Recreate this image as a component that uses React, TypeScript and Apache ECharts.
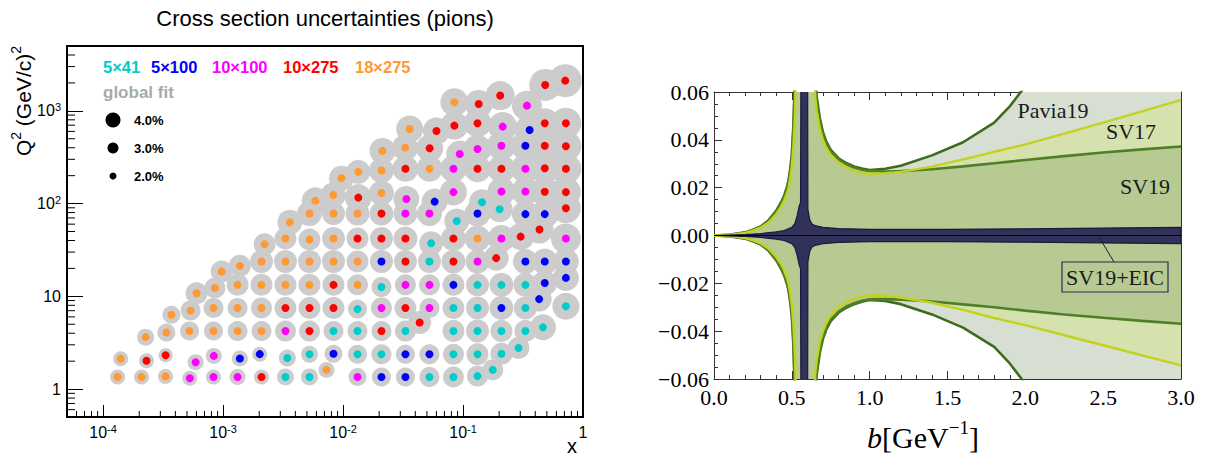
import React, { useEffect, useRef } from "react";
import * as echarts from "echarts";

// ---------- Left panel: [x, Q2, global-fit circle size(px)] ----------
const cyan5x41 = [
  [3.31e-3, 1.35, 17], [5.25e-3, 1.35, 17], [5.25e-2, 1.35, 20], [8.32e-2, 1.35, 21], [0.132, 1.38, 21], [0.177, 1.61, 21],
  [3.43e-3, 2.16, 17], [5.25e-3, 2.37, 17], [1.32e-2, 2.37, 19], [2.09e-2, 2.37, 20], [8.32e-2, 2.37, 21], [0.132, 2.37, 22], [0.209, 2.4, 22], [0.29, 2.77, 22],
  [8.32e-3, 4.22, 20], [1.32e-2, 4.22, 20], [3.31e-2, 4.22, 21], [8.32e-2, 4.22, 22], [0.132, 4.22, 23], [0.209, 4.22, 22], [0.331, 4.22, 22], [0.464, 4.63, 26],
  [1.32e-2, 7.28, 19], [8.32e-2, 7.5, 22], [0.132, 7.5, 23], [0.331, 7.5, 23], [0.72, 7.8, 27],
  [2.09e-2, 12.6, 20], [0.132, 13.3, 23], [0.209, 13.3, 24], [0.331, 13.3, 24],
  [5.25e-2, 23.7, 23],
  [0.0542, 37.4, 24],
  [0.0887, 65, 25], [0.202, 87, 26],
  [0.144, 103.5, 26],
];
const blue5x100 = [
  [2.09e-2, 1.35, 19], [3.31e-2, 1.35, 19],
  [1.38e-3, 2.14, 16], [2.02e-3, 2.38, 15], [8.32e-3, 2.4, 18], [3.31e-2, 2.37, 19], [5.25e-2, 2.37, 20],
  [0.209, 7.5, 24], [0.431, 9.33, 25],
  [8.32e-2, 13.3, 22], [0.48, 13.9, 25], [0.72, 15.8, 26],
  [2.09e-2, 23.7, 23], [0.331, 23.7, 25], [0.48, 23.7, 26], [0.72, 23.7, 26],
  [0.132, 78, 26], [0.331, 77, 27], [0.48, 77, 28],
  [0.058, 105, 26],
  [0.331, 420, 29],
  [0.359, 622, 30],
];
const magenta10x100 = [
  [5.28e-4, 1.31, 15], [8.32e-4, 1.35, 15], [1.32e-3, 1.35, 16], [1.32e-2, 1.35, 18],
  [5.9e-4, 1.95, 16], [8.37e-4, 2.28, 16],
  [3.31e-3, 4.22, 21],
  [2.09e-2, 7.5, 21], [5.25e-2, 7.5, 20],
  [3.31e-2, 13.3, 21], [5.25e-2, 13.3, 21],
  [0.132, 23.7, 24],
  [0.209, 42, 27], [0.72, 42, 30],
  [3.31e-2, 78, 24], [5.25e-2, 78, 25],
  [0.0337, 112, 26], [8.32e-2, 133, 27], [0.209, 135, 28], [0.331, 135, 28],
  [8.32e-2, 237, 27], [0.331, 237, 29],
  [0.0938, 343, 27], [0.132, 388, 28], [0.209, 420, 29],
  [0.214, 676, 29],
  [0.341, 1137, 30],
];
const red10x275 = [
  [2.09e-3, 1.35, 15],
  [2.3e-4, 2.02, 15], [3.32e-4, 2.32, 14],
  [5.25e-3, 4.22, 21], [2.09e-2, 4.22, 20], [0.0435, 5.22, 23],
  [3.31e-3, 7.5, 22], [5.25e-3, 7.5, 22], [8.32e-3, 7.5, 22], [3.31e-2, 7.5, 22],
  [8.32e-3, 13.3, 22],
  [3.31e-2, 23.7, 23], [8.32e-2, 23.7, 24], [0.189, 25.8, 25],
  [1.32e-2, 42, 22], [2.09e-2, 42, 23], [3.31e-2, 42, 24], [8.32e-2, 42, 25], [0.302, 44, 27], [0.434, 52.5, 28],
  [2.09e-2, 78, 24], [0.72, 89, 30],
  [1.34e-2, 116, 27], [0.48, 134, 29], [0.72, 133, 30],
  [3.31e-2, 237, 26], [0.132, 237, 27], [0.209, 237, 28], [0.48, 240, 30], [0.72, 237, 31],
  [0.0527, 395, 27], [0.48, 420, 30], [0.72, 415, 31],
  [0.06, 607, 27], [0.0847, 693, 28], [0.132, 735, 28], [0.48, 735, 30], [0.72, 735, 31],
  [0.135, 1186, 28], [0.204, 1460, 29],
  [0.484, 1901, 32], [0.711, 2115, 33],
];
const orange18x275 = [
  [1.32e-4, 1.35, 15], [2.09e-4, 1.35, 15], [3.31e-4, 1.37, 15], [7.28e-3, 1.61, 16],
  [1.4e-4, 2.12, 15],
  [2.26e-4, 3.63, 17], [3.37e-4, 4.07, 18], [5.25e-4, 4.22, 19], [8.32e-4, 4.22, 19], [1.32e-3, 4.22, 20], [2.09e-3, 4.22, 20],
  [3.71e-4, 6.32, 18], [5.36e-4, 7.03, 20], [8.32e-4, 7.5, 20], [1.32e-3, 7.5, 20], [2.09e-3, 7.5, 21],
  [6.01e-4, 10.8, 22], [8.55e-4, 12.3, 21], [1.32e-3, 13.3, 22], [2.09e-3, 13.3, 22], [3.31e-3, 13.3, 22], [5.25e-3, 13.3, 22], [1.32e-2, 13.3, 21],
  [9.73e-4, 18.5, 22], [1.38e-3, 21.3, 22], [2.09e-3, 23.7, 23], [3.31e-3, 23.7, 23], [5.25e-3, 23.7, 23], [8.32e-3, 23.7, 23], [1.32e-2, 23.7, 22],
  [2.22e-3, 36.5, 22], [3.31e-3, 42, 22], [5.25e-3, 41, 22], [8.32e-3, 42, 23], [0.132, 42, 26],
  [3.6e-3, 63, 25], [5.25e-3, 78, 25], [8.32e-3, 78, 23], [1.32e-2, 78, 24],
  [5.87e-3, 107, 27], [8.28e-3, 124, 25], [2.09e-2, 130, 25],
  [9.7e-3, 188, 25], [1.34e-2, 220, 24], [2.09e-2, 227, 25], [5.25e-2, 237, 26],
  [2.13e-2, 370, 26], [0.0329, 401, 26],
  [0.0359, 638, 27],
  [0.0847, 1238, 28],
];
const beamLabels = ["5×41", "5×100", "10×100", "10×275", "18×275"];
const beamColors = ["#00cccc", "#0000ff", "#ff00ff", "#ff0000", "#ff9933"];
const sizeLegend = ["4.0%", "3.0%", "2.0%"];

// ---------- Right panel ----------
const bandB = [0, 0.1, 0.2, 0.25, 0.3, 0.35, 0.4, 0.43, 0.45, 0.47, 0.48, 0.49, 0.5, 0.51, 0.52, 0.53, 0.64, 0.65, 0.66, 0.68, 0.7, 0.72, 0.75, 0.8, 0.85, 0.9, 0.95, 1.0, 1.1, 1.2, 1.4, 1.6, 1.8, 1.9, 2.0, 2.25, 2.5, 2.75, 3.0];
const pavia19Up = [0, 0.0003, 0.0013, 0.0024, 0.0038, 0.0063, 0.0104, 0.0138, 0.0166, 0.0205, 0.0235, 0.028, 0.034, 0.046, 0.068, 0.12, 0.12, 0.066, 0.058, 0.049, 0.0432, 0.0395, 0.0358, 0.0323, 0.0303, 0.0289, 0.028, 0.0274, 0.0279, 0.0292, 0.0335, 0.039, 0.0472, 0.054, 0.0625, 0.085, 0.11, 0.135, 0.16];
const pavia19Lo = [0, -0.0003, -0.0013, -0.0024, -0.0038, -0.0063, -0.0104, -0.0138, -0.0166, -0.0205, -0.0235, -0.028, -0.034, -0.046, -0.068, -0.12, -0.12, -0.066, -0.058, -0.049, -0.0432, -0.0395, -0.0358, -0.0323, -0.0302, -0.0287, -0.0277, -0.0270, -0.0274, -0.0287, -0.0330, -0.0385, -0.0466, -0.0535, -0.0620, -0.085, -0.11, -0.135, -0.16];
const sv17Up = [0, 0.0002, 0.0011, 0.002, 0.0033, 0.0054, 0.009, 0.012, 0.0145, 0.018, 0.0205, 0.0243, 0.029, 0.037, 0.05, 0.08, 0.08, 0.058, 0.052, 0.0445, 0.04, 0.0368, 0.0337, 0.0305, 0.0285, 0.0271, 0.0263, 0.0259, 0.026, 0.0266, 0.0288, 0.0318, 0.035, 0.0365, 0.0381, 0.0426, 0.0472, 0.0519, 0.0567];
const sv17Lo = [0, -0.0002, -0.0011, -0.002, -0.0033, -0.0054, -0.009, -0.012, -0.0145, -0.018, -0.0205, -0.0243, -0.029, -0.037, -0.05, -0.08, -0.08, -0.058, -0.052, -0.0445, -0.04, -0.0366, -0.0334, -0.0301, -0.028, -0.0265, -0.0256, -0.0251, -0.0252, -0.0259, -0.0281, -0.0311, -0.0345, -0.036, -0.0375, -0.0417, -0.0459, -0.0501, -0.0543];
const sv19Up = [0, 0.0003, 0.0012, 0.0023, 0.0037, 0.0061, 0.0101, 0.0134, 0.0161, 0.0199, 0.0228, 0.027, 0.0328, 0.044, 0.064, 0.1, 0.1, 0.064, 0.0565, 0.0478, 0.0425, 0.0389, 0.0352, 0.0318, 0.0298, 0.0284, 0.0275, 0.0269, 0.0267, 0.0269, 0.0277, 0.0289, 0.0302, 0.0309, 0.0316, 0.0332, 0.0347, 0.036, 0.0372];
const sv19Lo = [0, -0.0003, -0.0012, -0.0023, -0.0037, -0.0061, -0.0101, -0.0134, -0.0161, -0.0199, -0.0228, -0.027, -0.0328, -0.044, -0.064, -0.1, -0.1, -0.064, -0.0565, -0.0478, -0.0425, -0.0389, -0.0352, -0.0318, -0.0297, -0.0283, -0.0273, -0.0267, -0.0266, -0.0268, -0.0276, -0.0288, -0.0300, -0.0307, -0.0314, -0.0330, -0.0344, -0.0357, -0.0369];
const eicB = [0, 0.1, 0.2, 0.3, 0.4, 0.45, 0.5, 0.52, 0.535, 0.548, 0.556, 0.564, 0.598, 0.603, 0.615, 0.63, 0.65, 0.7, 0.8, 1.0, 1.5, 2.0, 2.5, 3.0];
const eicUp = [0, 0.0002, 0.0004, 0.0008, 0.0015, 0.0021, 0.0034, 0.0051, 0.0085, 0.0125, 0.0138, 0.2, 0.2, 0.011, 0.0066, 0.0048, 0.0041, 0.0034, 0.0029, 0.0026, 0.0026, 0.0028, 0.0031, 0.0034];
const eicLo = eicUp.map((v) => -v);

const SANS = '"Liberation Sans", Arial, sans-serif';
const SERIF = '"Liberation Serif", "Times New Roman", serif';

function powLabel(v: number) {
  const lg = Math.log10(v);
  const e = Math.round(lg);
  if (Math.abs(lg - e) > 0.01) return "";
  if (e === 0) return "{b|1}";
  if (e === 1) return "{b|10}";
  return "{b|10}{s|" + e + "}";
}
const powRich = {
  b: { fontSize: 16, fontFamily: SANS, color: "#000", lineHeight: 18 },
  s: { fontSize: 11, fontFamily: SANS, color: "#000", lineHeight: 9, verticalAlign: "top" },
};

const xMinor: number[] = [];
for (let e = -5; e <= 0; e++) for (let k = 2; k <= 9; k++) { const v = k * Math.pow(10, e); if (v > 5.0001e-5 && v < 0.9999) xMinor.push(v); }
const yMinor: number[] = [];
for (let e = -1; e <= 3; e++) for (let k = 2; k <= 9; k++) { const v = k * Math.pow(10, e); if (v > 0.5001 && v < 4999) yMinor.push(v); }

function band(xs: number[], up: number[], lo: number[], fill: string, z: number, stroke?: string) {
  return {
    type: "custom", xAxisIndex: 2, yAxisIndex: 2, z, clip: true, silent: true,
    data: [[xs[0], 0]],
    renderItem: (params: any, api: any) => {
      const pts: number[][] = [];
      for (let i = 0; i < xs.length; i++) pts.push(api.coord([xs[i], up[i]]));
      for (let i = xs.length - 1; i >= 0; i--) pts.push(api.coord([xs[i], lo[i]]));
      const cs = params.coordSys;
      return {
        type: "polygon", shape: { points: pts },
        style: { fill, stroke: stroke || "none", lineWidth: stroke ? 1.2 : 0 },
        clipPath: { type: "rect", shape: { x: cs.x, y: cs.y, width: cs.width, height: cs.height } },
      };
    },
  };
}
function curve(xs: number[], ys: number[], color: string, width: number, z: number) {
  return {
    type: "line", xAxisIndex: 2, yAxisIndex: 2, z, silent: true, showSymbol: false, symbol: "none",
    clip: true, data: xs.map((x, i) => [x, ys[i]]), lineStyle: { color, width },
  };
}

function txt(text: string, x: number, y: number, font: string, fill: string, align = "left", extra: any = {}) {
  return {
    type: "text", x, y, z: 100, silent: true, ...extra,
    style: { text, font, fill, align, verticalAlign: "middle", textAlign: align, textVerticalAlign: "middle", ...(extra.style || {}) },
  };
}

export default function App() {
  const ref = useRef<HTMLDivElement>(null);
  useEffect(() => {
    const chart = echarts.init(ref.current as HTMLDivElement, null, { renderer: "svg" });
    const allPts = [...cyan5x41, ...blue5x100, ...magenta10x100, ...red10x275, ...orange18x275];
    const beams = [cyan5x41, blue5x100, magenta10x100, red10x275, orange18x275];
    const frame = { show: true, onZero: false, lineStyle: { color: "#000", width: 2 } };
    const rframe = { show: true, onZero: false, lineStyle: { color: "#333", width: 1 } };
    const rTick = { show: true, inside: true, length: 8, lineStyle: { color: "#333" } };
    const option: any = {
      animation: false,
      backgroundColor: "#fff",
      grid: [
        { left: 67, top: 46, width: 516, height: 371 },
        { left: 714, top: 92, width: 467, height: 287 },
      ],
      xAxis: [
        {
          gridIndex: 0, type: "log", logBase: 10, min: 5e-5, max: 1, position: "bottom",
          axisLine: frame, axisTick: { show: true, inside: true, length: 12, lineStyle: { color: "#000" } },
          axisLabel: { formatter: powLabel, rich: powRich, margin: 6 }, splitLine: { show: false },
        },
        { gridIndex: 0, type: "log", logBase: 10, min: 5e-5, max: 1, position: "top", axisLine: frame, axisTick: { show: false }, axisLabel: { show: false }, splitLine: { show: false } },
        {
          gridIndex: 1, type: "value", min: 0, max: 3, interval: 0.5, position: "bottom",
          axisLine: rframe, axisTick: rTick, minorTick: { show: true, splitNumber: 5, length: 4, lineStyle: { color: "#333" } },
          axisLabel: { formatter: (v: number) => v.toFixed(1), fontFamily: SERIF, fontSize: 22, color: "#000", margin: 7 },
          splitLine: { show: false }, minorSplitLine: { show: false },
        },
        {
          gridIndex: 1, type: "value", min: 0, max: 3, interval: 0.5, position: "top",
          axisLine: rframe, axisTick: rTick, minorTick: { show: true, splitNumber: 5, length: 4, lineStyle: { color: "#333" } },
          axisLabel: { show: false }, splitLine: { show: false },
        },
      ],
      yAxis: [
        {
          gridIndex: 0, type: "log", logBase: 10, min: 0.5, max: 5000, position: "left",
          axisLine: frame, axisTick: { show: true, inside: true, length: 16, lineStyle: { color: "#000" } },
          axisLabel: { formatter: powLabel, rich: powRich, margin: 6 }, splitLine: { show: false },
        },
        { gridIndex: 0, type: "log", logBase: 10, min: 0.5, max: 5000, position: "right", axisLine: frame, axisTick: { show: false }, axisLabel: { show: false }, splitLine: { show: false } },
        {
          gridIndex: 1, type: "value", min: -0.06, max: 0.06, interval: 0.02, position: "left",
          axisLine: rframe, axisTick: rTick, minorTick: { show: true, splitNumber: 4, length: 4, lineStyle: { color: "#333" } },
          axisLabel: {
            formatter: (v: number) => (Math.abs(v) < 1e-9 ? "0.00" : (v < 0 ? "\u2212" : "") + Math.abs(v).toFixed(2)),
            fontFamily: SERIF, fontSize: 22, color: "#000", margin: 5,
          },
          splitLine: { show: false },
        },
        {
          gridIndex: 1, type: "value", min: -0.06, max: 0.06, interval: 0.02, position: "right",
          axisLine: rframe, axisTick: rTick, minorTick: { show: true, splitNumber: 4, length: 4, lineStyle: { color: "#333" } },
          axisLabel: { show: false }, splitLine: { show: false },
        },
      ],
      series: [
        {
          type: "scatter", name: "global fit", xAxisIndex: 0, yAxisIndex: 0, z: 2, silent: true,
          data: allPts, symbolSize: (d: number[]) => d[2], itemStyle: { color: "#cccccc", opacity: 1 },
        },
        ...beams.map((arr, i) => ({
          type: "scatter", name: beamLabels[i], xAxisIndex: 0, yAxisIndex: 0, z: 3, silent: true,
          data: arr, symbolSize: 8, itemStyle: { color: beamColors[i], opacity: 1 },
        })),
        {
          type: "custom", xAxisIndex: 0, yAxisIndex: 0, z: 4, silent: true,
          data: xMinor.map((v) => [v, 0.5]),
          renderItem: (p: any, api: any) => {
            const c = api.coord([api.value(0), api.value(1)]);
            return { type: "line", shape: { x1: c[0], y1: c[1], x2: c[0], y2: c[1] - 6 }, style: { stroke: "#000", lineWidth: 1 } };
          },
        },
        {
          type: "custom", xAxisIndex: 0, yAxisIndex: 0, z: 4, silent: true,
          data: yMinor.map((v) => [5e-5, v]),
          renderItem: (p: any, api: any) => {
            const c = api.coord([api.value(0), api.value(1)]);
            return { type: "line", shape: { x1: c[0], y1: c[1], x2: c[0] + 8, y2: c[1] }, style: { stroke: "#000", lineWidth: 1 } };
          },
        },
        band(bandB, pavia19Up, pavia19Lo, "#d7dfd3", 1),
        band(bandB, sv17Up, sv17Lo, "#d6e2ad", 2),
        band(bandB, sv19Up, sv19Lo, "#b7ca91", 3),
        curve(bandB, pavia19Up, "#3f6b1f", 2.6, 4),
        curve(bandB, pavia19Lo, "#3f6b1f", 2.6, 4),
        curve(bandB, sv19Up, "#4e8028", 2.6, 4),
        curve(bandB, sv19Lo, "#4e8028", 2.6, 4),
        curve(bandB, sv17Up, "#c2d21e", 2.4, 5),
        curve(bandB, sv17Lo, "#c2d21e", 2.4, 5),
        band(eicB, eicUp, eicLo, "#31315a", 6, "#1a1a3e"),
        {
          type: "line", xAxisIndex: 2, yAxisIndex: 2, z: 7, silent: true, showSymbol: false, symbol: "none",
          data: [[0, 0], [3, 0]], lineStyle: { color: "#000", width: 1 },
        },
      ],
      graphic: [
        txt("Cross section uncertainties (pions)", 325, 18, "22px " + SANS, "#000", "center"),
        ...beamLabels.map((l, i) => txt(l, [103, 151, 212, 283, 355][i], 67, "bold 16.5px " + SANS, beamColors[i])),
        txt("global fit", 103, 92, "bold 17px " + SANS, "#aaaaaa"),
        ...[7.5, 5.5, 3.5].map((r, i) => ({ type: "circle", z: 100, silent: true, shape: { cx: 113, cy: 120 + 28 * i, r }, style: { fill: "#000" } })),
        ...sizeLegend.map((l, i) => txt(l, 134, 120 + 28 * i, "bold 13px " + SANS, "#000")),
        {
          type: "text", x: 23, y: 46, z: 100, rotation: Math.PI / 2, silent: true,
          style: {
            text: "{a|Q}{s|2}{a| (GeV/c)}{s|2}", align: "right", verticalAlign: "middle", textAlign: "right", textVerticalAlign: "middle",
            rich: {
              a: { fontSize: 21, fontFamily: SANS, fill: "#000", color: "#000", lineHeight: 28 },
              s: { fontSize: 14, fontFamily: SANS, fill: "#000", color: "#000", lineHeight: 14, verticalAlign: "top" },
            },
          },
        },
        txt("x", 577, 446, "20px " + SANS, "#000", "right"),
        {
          type: "text", x: 923, y: 437, z: 100, silent: true,
          style: {
            text: "{i|b}{n|[GeV}{s|\u22121}{n|]}", align: "center", verticalAlign: "middle", textAlign: "center", textVerticalAlign: "middle",
            rich: {
              i: { fontSize: 30, fontFamily: SERIF, fontStyle: "italic", fill: "#000", color: "#000", lineHeight: 38 },
              n: { fontSize: 30, fontFamily: SERIF, fill: "#000", color: "#000", lineHeight: 38 },
              s: { fontSize: 19, fontFamily: SERIF, fill: "#000", color: "#000", lineHeight: 19, verticalAlign: "top" },
            },
          },
        },
        txt("Pavia19", 1053, 110, "22px " + SERIF, "#1a1a1a", "center"),
        txt("SV17", 1131, 131, "22px " + SERIF, "#1a1a1a", "center"),
        txt("SV19", 1145, 186, "22px " + SERIF, "#1a1a1a", "center"),
        { type: "line", silent: true, z: 100, shape: { x1: 1114, y1: 262, x2: 1099, y2: 237 }, style: { stroke: "#1a1a3e", lineWidth: 1 } },
        { type: "rect", silent: true, z: 100, shape: { x: 1062, y: 262, width: 106, height: 30 }, style: { fill: "none", stroke: "#2a2a55", lineWidth: 1.2 } },
        txt("SV19+EIC", 1115, 277, "22px " + SERIF, "#1a1a1a", "center"),
      ],
    };
    chart.setOption(option);
    return () => chart.dispose();
  }, []);
  return <div ref={ref} style={{ position: "fixed", left: 0, top: 0, width: 1205, height: 457 }} />;
}
